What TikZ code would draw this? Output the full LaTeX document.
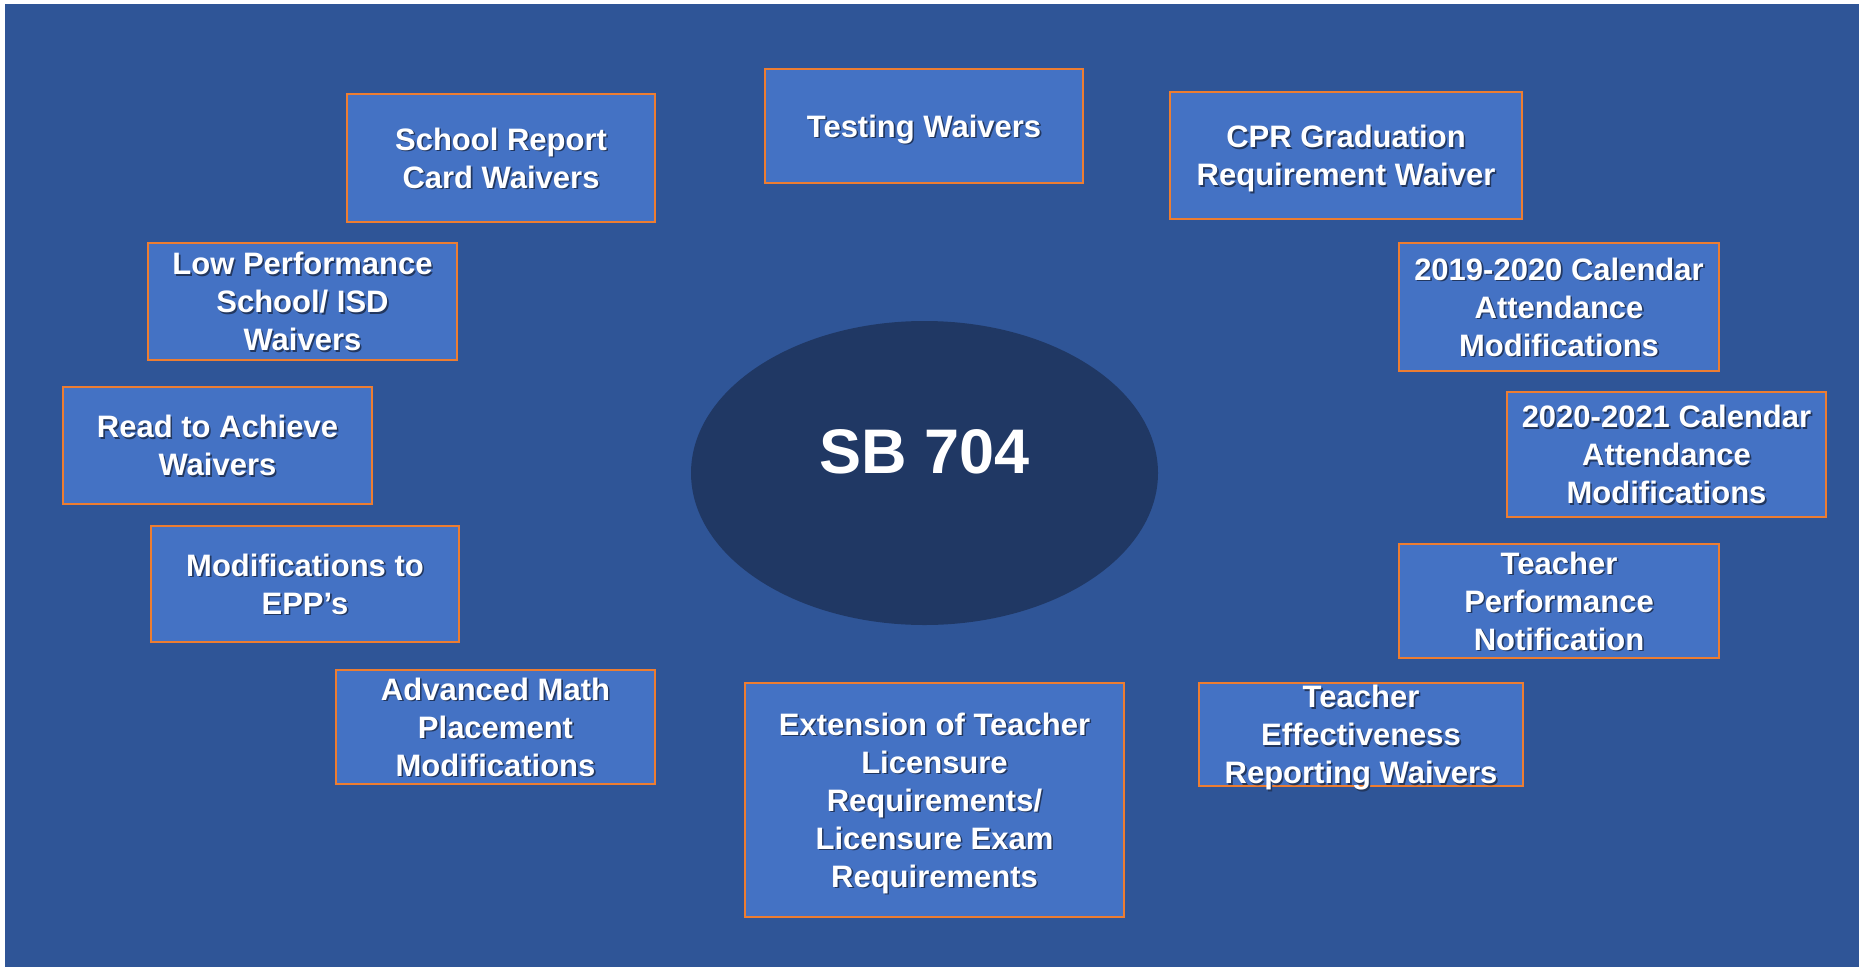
\documentclass[tikz,border=0pt]{standalone}
\usepackage{fontspec}
\setmainfont{Liberation Sans}
\usetikzlibrary{shapes.geometric}
\definecolor{bg}{HTML}{2F5597}
\definecolor{boxfill}{HTML}{4472C4}
\definecolor{boxline}{HTML}{ED7D31}
\definecolor{ellfill}{HTML}{203864}
\definecolor{shd}{HTML}{22375F}
\newcommand\shtx[1]{\leavevmode\rlap{\kern1.6pt\raisebox{-1.6pt}{\textcolor{shd}{#1}}}#1}
\begin{document}
\begin{tikzpicture}[x=1pt,y=-1pt,
  item/.style={draw=boxline, line width=2pt, fill=boxfill, text=white,
    font=\bfseries\fontsize{31}{38}\selectfont, align=center, inner sep=0pt, text depth=0pt},
  hub/.style={ellipse, fill=ellfill, draw=none, text=white,
    font=\bfseries\fontsize{63}{70}\selectfont, inner sep=0pt}]
\useasboundingbox (0,0) rectangle (1859,966);
\fill[white] (-10,-10) rectangle (1880,990);
\fill[bg] (5,4) rectangle (1880,990);
\node[hub, minimum width=467pt, minimum height=304pt] (hub) at (924.5,473) {\smash{SB 704}};
\node[item, minimum width=308pt, minimum height=128pt] (school) at (501,158) {\shtx{School Report}\\\shtx{Card Waivers}};
\node[item, minimum width=318pt, minimum height=114pt] (testing) at (924,126) {\shtx{Testing Waivers}};
\node[item, minimum width=352pt, minimum height=127pt] (cpr) at (1346,155.5) {\shtx{CPR Graduation}\\\shtx{Requirement Waiver}};
\node[item, minimum width=309pt, minimum height=117pt] (low) at (302.5,301.5) {\shtx{Low Performance}\\\shtx{School/ ISD}\\\shtx{Waivers}};
\node[item, minimum width=320pt, minimum height=128pt] (cal19) at (1559,307) {\shtx{2019-2020 Calendar}\\\shtx{Attendance}\\\shtx{Modifications}};
\node[item, minimum width=309pt, minimum height=117pt] (read) at (217.5,445.5) {\shtx{Read to Achieve}\\\shtx{Waivers}};
\node[item, minimum width=319pt, minimum height=125pt] (cal20) at (1666.5,454.5) {\shtx{2020-2021 Calendar}\\\shtx{Attendance}\\\shtx{Modifications}};
\node[item, minimum width=308pt, minimum height=116pt] (epp) at (305,584) {\shtx{Modifications to}\\\shtx{EPP’s}};
\node[item, minimum width=320pt, minimum height=114pt] (tperf) at (1559,601) {\shtx{Teacher}\\\shtx{Performance}\\\shtx{Notification}};
\node[item, minimum width=319pt, minimum height=114pt] (math) at (495.5,727) {\shtx{Advanced Math}\\\shtx{Placement}\\\shtx{Modifications}};
\node[item, minimum width=379pt, minimum height=234pt] (ext) at (934.5,800) {\shtx{Extension of Teacher}\\\shtx{Licensure}\\\shtx{Requirements/}\\\shtx{Licensure Exam}\\\shtx{Requirements}};
\node[item, minimum width=324pt, minimum height=103pt] (teff) at (1361,734.5) {\shtx{Teacher}\\\shtx{Effectiveness}\\\shtx{Reporting Waivers}};
\end{tikzpicture}
\end{document}
